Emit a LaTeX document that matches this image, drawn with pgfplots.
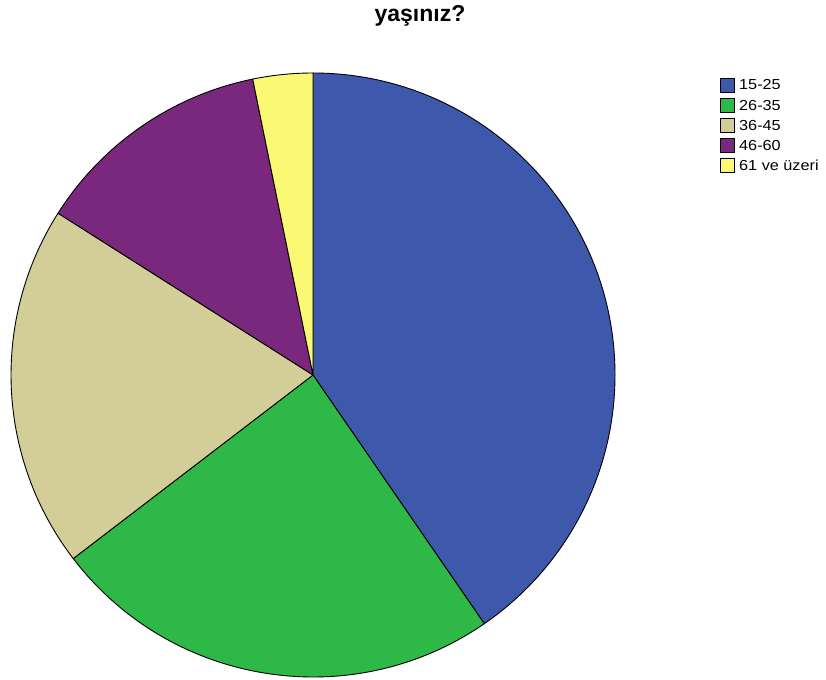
\documentclass[border=0pt]{standalone}
\usepackage{fontspec}
\setmainfont{Liberation Sans}
\usepackage{pgfplots}
\usepackage{pgfplotstable}
\pgfplotsset{compat=1.18}

\definecolor{c0}{RGB}{62,88,172}
\definecolor{c1}{RGB}{46,184,72}
\definecolor{c2}{RGB}{211,206,151}
\definecolor{c3}{RGB}{121,40,125}
\definecolor{c4}{RGB}{251,248,115}

% Percentages of the age groups
\pgfplotstableread{
label value
15-25 40.4
26-35 24.2
36-45 19.4
46-60 12.8
61+   3.2
}\agedata

% cumulative start/end angles, clockwise from 12 o'clock
\xdef\cumsum{0}
\foreach \i in {0,...,4}{%
  \pgfplotstablegetelem{\i}{value}\of\agedata
  \pgfmathsetmacro{\s}{90-3.6*\cumsum}%
  \pgfmathsetmacro{\e}{90-3.6*(\cumsum+\pgfplotsretval)}%
  \pgfmathsetmacro{\c}{\cumsum+\pgfplotsretval}%
  \expandafter\xdef\csname angS\i\endcsname{\s}%
  \expandafter\xdef\csname angE\i\endcsname{\e}%
  \xdef\cumsum{\c}%
}

\begin{document}
\begin{tikzpicture}
\begin{axis}[
  scale only axis, width=826pt, height=679pt,
  xmin=0, xmax=826, ymin=0, ymax=679,
  hide axis, clip=false,
]
\coordinate (BL) at (axis cs:0,0);
\coordinate (TR) at (axis cs:826,679);
\pgfplotsinvokeforeach{0,...,4}{%
  \filldraw[fill=c#1, draw=black, line width=0.9pt, line join=round]
    (axis cs:313,304) -- ++(\csname angS#1\endcsname:302pt)
    arc[start angle=\csname angS#1\endcsname, end angle=\csname angE#1\endcsname, radius=302pt] -- cycle;
}
% title
\node[font=\bfseries\fontsize{23}{26}\selectfont, inner sep=0pt] at (axis cs:420,663) {yaşınız?};
% legend
\pgfplotsinvokeforeach{0,...,4}{%
  \filldraw[fill=c#1, draw=black, line width=0.8pt]
    (axis cs:720.5,{679-78-20.1*#1}) rectangle (axis cs:734.5,{679-92-20.1*#1});
}
\node[anchor=west, inner sep=0pt, font=\fontsize{14.5}{16}\selectfont] at (axis cs:739,{679-85}) {\scalebox{1.12}[1]{15-25}};
\node[anchor=west, inner sep=0pt, font=\fontsize{14.5}{16}\selectfont] at (axis cs:739,{679-85-20.1}) {\scalebox{1.12}[1]{26-35}};
\node[anchor=west, inner sep=0pt, font=\fontsize{14.5}{16}\selectfont] at (axis cs:739,{679-85-40.2}) {\scalebox{1.12}[1]{36-45}};
\node[anchor=west, inner sep=0pt, font=\fontsize{14.5}{16}\selectfont] at (axis cs:739,{679-85-60.3}) {\scalebox{1.12}[1]{46-60}};
\node[anchor=west, inner sep=0pt, font=\fontsize{14.5}{16}\selectfont] at (axis cs:739,{679-85-80.4}) {\scalebox{1.12}[1]{61 ve üzeri}};
\end{axis}
\pgfresetboundingbox
\path[use as bounding box] (BL) rectangle (TR);
\end{tikzpicture}
\end{document}
